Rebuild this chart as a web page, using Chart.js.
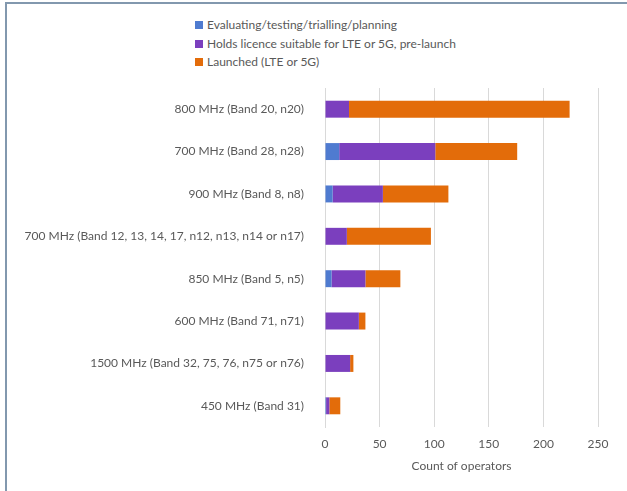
<!DOCTYPE html>
<html>
<head>
<meta charset="utf-8">
<script src="https://cdn.jsdelivr.net/npm/chart.js@4.4.1/dist/chart.umd.min.js"></script>
<style>
	body { margin: 0; background: #fff; }
	#wrap { position: relative; width: 627px; height: 491px; overflow: hidden; background: #fff; }
	#frame {
		position: absolute; left: 5px; top: 2px; right: -4px; bottom: -4px;
		border-top: 2px solid #8298ae; border-left: 2px solid #8298ae;
	}
	#bandChart { position: absolute; left: 0; top: 0; }
	#legend {
		position: absolute; left: 195px; top: 16px;
		font: 12px Lato, 'Liberation Sans', sans-serif; color: #595959;
	}
	#legend div { height: 18.5px; line-height: 18px; white-space: nowrap; }
	#legend span {
		display: inline-block; width: 8px; height: 8px; margin-right: 4px; vertical-align: -0px;
	}
</style>
</head>
<body>
<div id="wrap">
	<div id="frame"></div>
	<div id="legend"></div>
	<canvas id="bandChart" width="627" height="491"></canvas>
</div>
<script>
// bands, top to bottom
const bands = [
	'800 MHz (Band 20, n20)',
	'700 MHz (Band 28, n28)',
	'900 MHz (Band 8, n8)',
	'700 MHz (Band 12, 13, 14, 17, n12, n13, n14 or n17)',
	'850 MHz (Band 5, n5)',
	'600 MHz (Band 71, n71)',
	'1500 MHz (Band 32, 75, 76, n75 or n76)',
	'450 MHz (Band 31)',
];

// operator counts per status
const evaluating = [0, 13, 7, 0, 6, 0, 0, 1];
const holdsLicence = [22, 88, 46, 20, 31, 31, 23, 3];
const launched = [202, 75, 60, 77, 32, 6, 3, 10];

const xTicks = [0, 50, 100, 150, 200, 250];

const textColor = '#595959';
const fontFamily = "Lato, 'Liberation Sans', sans-serif";

// setup block
const data = {
	labels: bands,
	datasets: [
		{
			label: 'Evaluating/testing/trialling/planning',
			data: evaluating,
			backgroundColor: '#4f7bd0',
		},
		{
			label: 'Holds licence suitable for LTE or 5G, pre-launch',
			data: holdsLicence,
			backgroundColor: '#7b3fbe',
		},
		{
			label: 'Launched (LTE or 5G)',
			data: launched,
			backgroundColor: '#e36c0a',
		},
	],
};

// config block
const config = {
	type: 'bar',
	data,
	options: {
		indexAxis: 'y',
		responsive: false,
		animation: false,
		barPercentage: 0.4,
		categoryPercentage: 1,
		layout: {
			padding: { top: 88, right: 29, bottom: 14, left: 0 },
		},
		plugins: {
			legend: { display: false },
			tooltip: { enabled: false },
		},
		scales: {
			x: {
				stacked: true,
				min: 0,
				max: 250,
				afterBuildTicks: (scale) => {
					scale.ticks = xTicks.map((v) => ({ value: v }));
				},
				afterFit: (scale) => {
					scale.height = 50;
				},
				grid: { color: '#d9d9d9', drawTicks: false },
				border: { display: false },
				ticks: {
					padding: 10,
					color: textColor,
					font: { family: fontFamily, size: 12 },
				},
				title: {
					display: true,
					text: 'Count of operators',
					color: textColor,
					font: { family: fontFamily, size: 12 },
				},
			},
			y: {
				stacked: true,
				afterFit: (scale) => {
					scale.width = 325;
				},
				grid: { display: false },
				border: { display: true, color: '#d9d9d9' },
				ticks: {
					padding: 13,
					color: textColor,
					font: { family: fontFamily, size: 12 },
				},
			},
		},
	},
};

// render / init block
const myChart = new Chart(document.getElementById('bandChart'), config);

// legend block, one row per dataset
const legendBox = document.getElementById('legend');
myChart.data.datasets.forEach((ds) => {
	const row = document.createElement('div');
	const swatch = document.createElement('span');
	swatch.style.background = ds.backgroundColor;
	row.appendChild(swatch);
	row.appendChild(document.createTextNode(ds.label));
	legendBox.appendChild(row);
});
</script>
</body>
</html>
